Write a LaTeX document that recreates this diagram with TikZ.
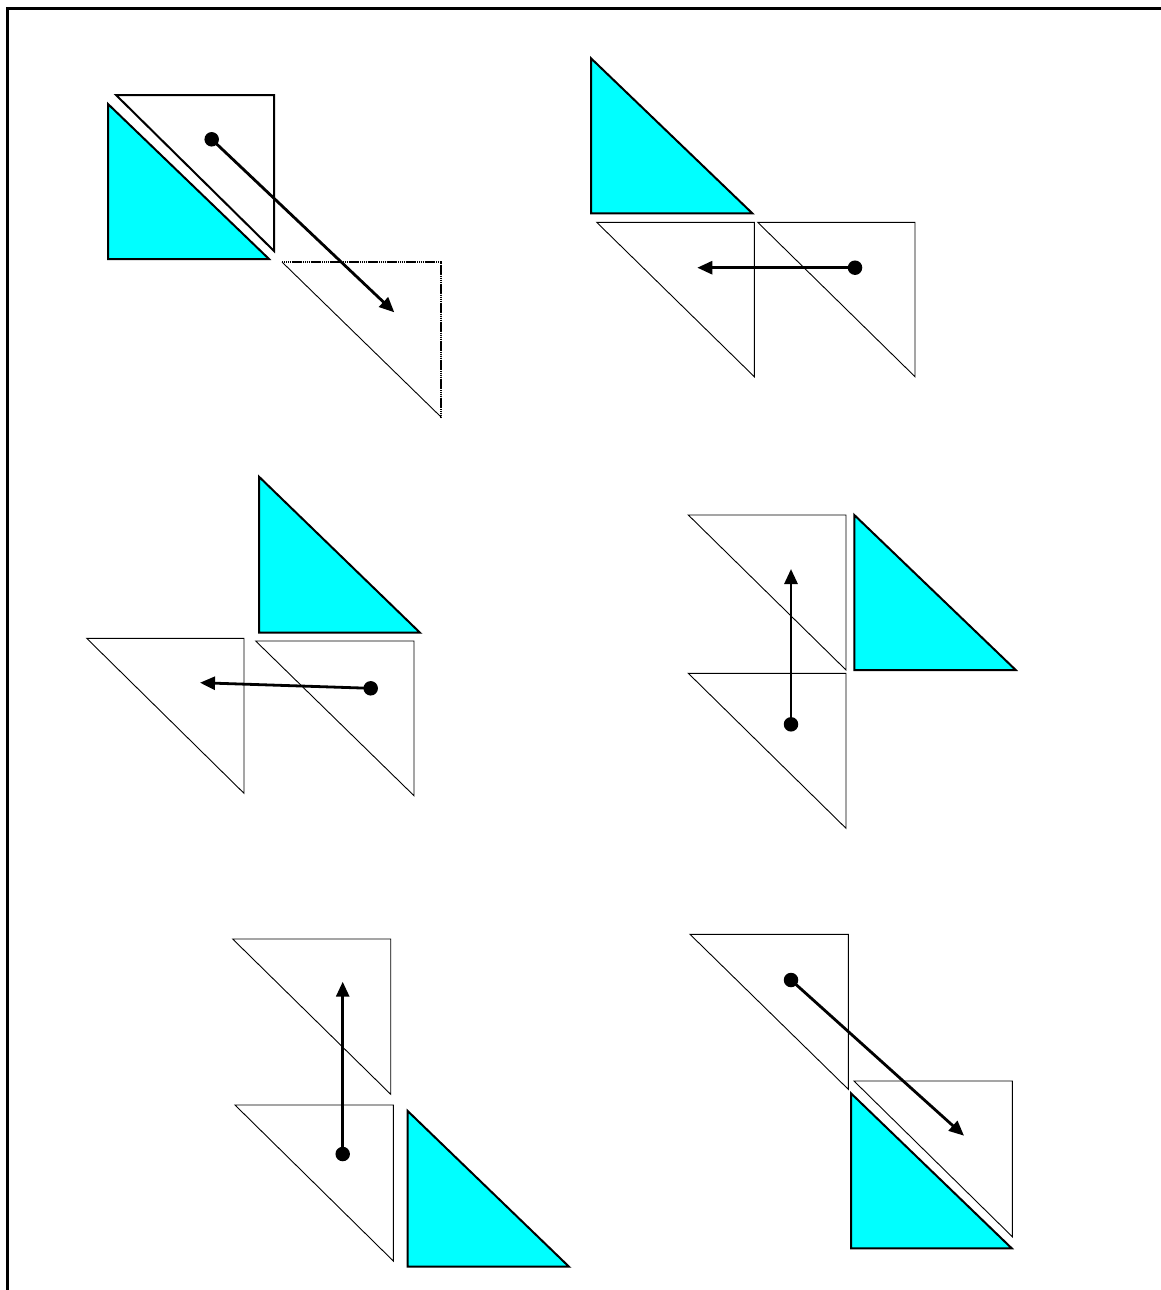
\documentclass[tikz,border=0pt]{standalone}
\usetikzlibrary{arrows.meta}
\definecolor{aqua}{HTML}{00FFFF}
\begin{document}
\begin{tikzpicture}[x=1pt,y=-1pt,
  frame/.style={line width=3pt},
  solidtri/.style={draw=black,fill=aqua,line width=2pt,line join=miter},
  boldtri/.style={draw=black,line width=2pt,line join=miter},
  thintri/.style={draw=black,line width=0.9pt,line join=miter},
  dotted edge/.style={draw=black,line width=1.1pt,dash pattern=on 1.4pt off 0.5pt},
  dotmark/.style={circle,fill=black,inner sep=0pt,minimum size=14.5pt},
  arr/.style={line width=2.8pt,-{Triangle[length=15pt,width=13pt]}}]
\useasboundingbox (0,0) rectangle (1160,1290);
\draw[frame] (7,1295) -- (7,9) -- (1165,9);

% Panel 1
\draw[solidtri] (108,104) -- (108,259) -- (269,259) -- cycle;
\draw[boldtri] (116,95) -- (274,95) -- (274,251) -- cycle;
\draw[thintri] (282,262) -- (441,417);
\draw[dotted edge] (282,262) -- (441,262) -- (441,417);
\node[dotmark] (d1) at (211.7,139.3) {};
\coordinate (t1) at (394.3,312.3);
\draw[arr] (d1.center) -- (t1);

% Panel 2
\draw[solidtri] (591,58.3) -- (591,213.3) -- (752.3,213.3) -- cycle;
\draw[thintri] (596.7,222.3) -- (754.3,222.3) -- (754.3,376.7) -- cycle;
\draw[thintri] (757.7,222.3) -- (915,222.3) -- (915,376.7) -- cycle;
\node[dotmark] (d2) at (855,267.7) {};
\coordinate (t2) at (697.3,267.7);
\draw[arr] (d2.center) -- (t2);

% Panel 3
\draw[solidtri] (259,476.7) -- (259,632.7) -- (420,632.7) -- cycle;
\draw[thintri] (86.7,638.3) -- (244,638.3) -- (244,793.3) -- cycle;
\draw[thintri] (255.7,641) -- (414,641) -- (414,795.7) -- cycle;
\node[dotmark] (d3) at (370.7,688.3) {};
\coordinate (t3) at (200,682.7);
\draw[arr] (d3.center) -- (t3);

% Panel 4
\draw[thintri] (688.3,515) -- (846,515) -- (846,670) -- cycle;
\draw[thintri] (688.3,673.3) -- (846,673.3) -- (846,828.3) -- cycle;
\draw[solidtri] (854.3,515) -- (854.3,670) -- (1015.7,670) -- cycle;
\node[dotmark] (d4) at (791,724.3) {};
\coordinate (t4) at (791,569);
\draw[arr] (d4.center) -- (t4);

% Panel 5
\draw[thintri] (232.7,939) -- (390.7,939) -- (390.7,1094.3) -- cycle;
\draw[thintri] (235,1105) -- (393.3,1105) -- (393.3,1261) -- cycle;
\draw[solidtri] (407.7,1111) -- (407.7,1266.7) -- (569,1266.7) -- cycle;
\node[dotmark] (d5) at (342.7,1154) {};
\coordinate (t5) at (342.7,981.7);
\draw[arr] (d5.center) -- (t5);

% Panel 6
\draw[thintri] (690,934.3) -- (848.3,934.3) -- (848.3,1089.3) -- cycle;
\draw[thintri] (854,1081) -- (1012.3,1081) -- (1012.3,1236.7) -- cycle;
\draw[solidtri] (851,1093.3) -- (851,1248.3) -- (1011.7,1248.3) -- cycle;
\node[dotmark] (d6) at (791,980) {};
\coordinate (t6) at (964,1135.7);
\draw[arr] (d6.center) -- (t6);
\end{tikzpicture}
\end{document}
